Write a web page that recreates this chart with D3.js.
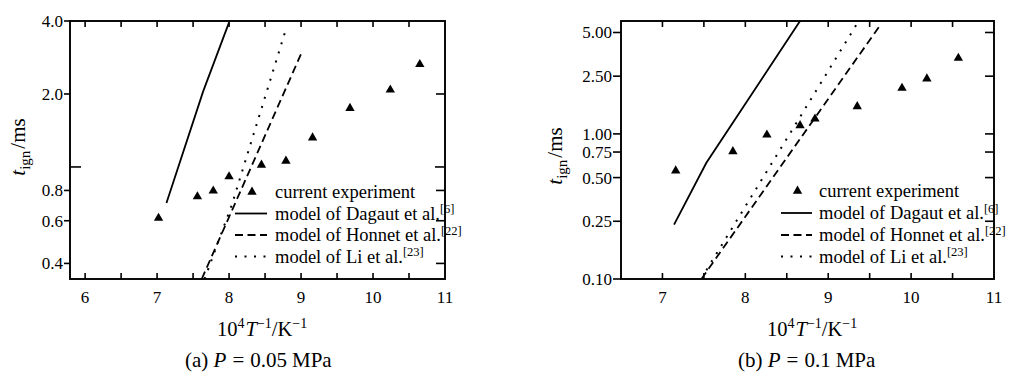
<!DOCTYPE html>
<html>
<head>
<meta charset="utf-8">
<script src="https://cdn.jsdelivr.net/npm/d3@7/dist/d3.min.js"></script>
<style>
  html, body { margin: 0; padding: 0; background: #fff; }
  svg { display: block; }
</style>
</head>
<body>
<svg id="chart" width="1010" height="376" font-family="'Liberation Serif', 'Times New Roman', 'DejaVu Serif', serif"></svg>
<script>
// ---------- data ----------
const legendLabels = ["current experiment", "model of Dagaut et al.", "model of Honnet et al.", "model of Li et al."];
const legendRefs = ["", "[6]", "[22]", "[23]"];
const captionPrefix = ["(a) ", "(b) "];
const captionValues = ["0.05", "0.1"];

// Panel (a) P = 0.05 MPa
const aExpX = [7.02, 7.56, 7.78, 8.00, 8.45, 8.79, 9.16, 9.68, 10.24, 10.65];
const aExpY = [0.615, 0.755, 0.797, 0.912, 1.019, 1.058, 1.32, 1.746, 2.08, 2.65];
const aDagautX = [7.13, 7.64, 8.00];
const aDagautY = [0.71, 2.05, 3.95];
const aHonnetX = [7.62, 9.01];
const aHonnetY = [0.345, 2.97];
const aLiX = [7.66, 8.04, 8.79];
const aLiY = [0.345, 0.70, 3.70];
const aXTicks = [6, 7, 8, 9, 10, 11];
const aYTicks = [0.4, 0.6, 0.8, 2.0, 4.0];
const aYTickLabels = ["0.4", "0.6", "0.8", "2.0", "4.0"];
const aYInnerTicks = [1.0];

// Panel (b) P = 0.1 MPa
const bExpX = [7.16, 7.85, 8.26, 8.66, 8.84, 9.35, 9.89, 10.19, 10.57];
const bExpY = [0.557, 0.756, 0.986, 1.143, 1.27, 1.545, 2.07, 2.40, 3.33];
const bDagautX = [7.14, 7.53, 8.66];
const bDagautY = [0.237, 0.633, 6.0];
const bHonnetX = [7.47, 9.63];
const bHonnetY = [0.10, 5.65];
const bLiX = [7.53, 9.34];
const bLiY = [0.115, 5.65];
const bXTicks = [7, 8, 9, 10, 11];
const bYTicks = [0.10, 0.25, 0.50, 0.75, 1.00, 2.50, 5.00];
const bYTickLabels = ["0.10", "0.25", "0.50", "0.75", "1.00", "2.50", "5.00"];
const bYInnerTicks = [];

// ---------- drawing ----------
const svg = d3.select("#chart");
const zip = (xs, ys) => xs.map((x, i) => [x, ys[i]]);

const panels = [
  {
    id: "a", xDomain: [5.79, 11], xRange: [70, 445], yDomain: [0.345, 4.0], yRange: [279, 21],
    exp: zip(aExpX, aExpY), dag: zip(aDagautX, aDagautY), hon: zip(aHonnetX, aHonnetY), li: zip(aLiX, aLiY),
    xTicks: aXTicks, yTicks: aYTicks, yLabels: aYTickLabels, yInner: aYInnerTicks,
    yTickOut: 6, ylabX: 25, ylabY: 147, legLineX: [235, 267], legText: 275, legRows: [192, 213.5, 235, 256.5],
    titleX: 217, capX: 185, labRight: 63, cap: 0
  },
  {
    id: "b", xDomain: [6.5, 11], xRange: [621, 994], yDomain: [0.1, 6.0], yRange: [279, 21],
    exp: zip(bExpX, bExpY), dag: zip(bDagautX, bDagautY), hon: zip(bHonnetX, bHonnetY), li: zip(bLiX, bLiY),
    xTicks: bXTicks, yTicks: bYTicks, yLabels: bYTickLabels, yInner: bYInnerTicks,
    yTickOut: 8, ylabX: 562, ylabY: 156, legLineX: [781, 812], legText: 819, legRows: [191, 213, 235, 256.5],
    titleX: 767, capX: 738, labRight: 612, cap: 1
  }
];

const styles = [
  null,
  { dash: null },
  { dash: "8,4.5" },
  { dash: "2,7.5" }
];

panels.forEach(p => {
  const x = d3.scaleLinear().domain(p.xDomain).range(p.xRange);
  const y = d3.scaleLog().domain(p.yDomain).range(p.yRange);
  const g = svg.append("g");
  const [x0, x1] = p.xRange, [yb, yt] = p.yRange;

  g.append("clipPath").attr("id", "clip-" + p.id)
    .append("rect").attr("x", x0).attr("y", yt).attr("width", x1 - x0).attr("height", yb - yt);

  // x ticks (inward, top & bottom), majors at integers, minors at halves
  const xMin = Math.ceil(p.xDomain[0] * 2) / 2;
  const xt = d3.range(xMin, p.xDomain[1] + 0.001, 0.5);
  xt.forEach(v => {
    const px = x(v);
    if (px <= x0 + 1 || px >= x1 - 1) return;
    g.append("line").attr("x1", px).attr("x2", px).attr("y1", yb).attr("y2", yb - 6)
      .attr("stroke", "#000").attr("stroke-width", 1.6);
    g.append("line").attr("x1", px).attr("x2", px).attr("y1", yt).attr("y2", yt + 6)
      .attr("stroke", "#000").attr("stroke-width", 1.6);
  });
  // x tick labels
  g.selectAll(".xl").data(p.xTicks).enter().append("text")
    .attr("x", d => x(d)).attr("y", 303).attr("text-anchor", "middle")
    .attr("font-size", 17).text(d => d);

  // y ticks: outward on left, inward on right
  p.yTicks.forEach((v, i) => {
    const py = y(v);
    g.append("line").attr("x1", x0 - p.yTickOut).attr("x2", x0).attr("y1", py).attr("y2", py)
      .attr("stroke", "#000").attr("stroke-width", 1.6);
    if (py > yt + 2 && py < yb - 1) {
      g.append("line").attr("x1", x1 - 9).attr("x2", x1).attr("y1", py).attr("y2", py)
        .attr("stroke", "#000").attr("stroke-width", 1.6);
    }
    g.append("text").attr("x", p.labRight).attr("y", py + 6).attr("text-anchor", "end")
      .attr("font-size", 17).text(p.yLabels[i]);
  });
  p.yInner.forEach(v => {
    const py = y(v);
    g.append("line").attr("x1", x0).attr("x2", x0 + 11).attr("y1", py).attr("y2", py)
      .attr("stroke", "#000").attr("stroke-width", 1.6);
    g.append("line").attr("x1", x1 - 10).attr("x2", x1).attr("y1", py).attr("y2", py)
      .attr("stroke", "#000").attr("stroke-width", 1.6);
  });

  // frame
  g.append("rect").attr("x", x0).attr("y", yt).attr("width", x1 - x0).attr("height", yb - yt)
    .attr("fill", "none").attr("stroke", "#000").attr("stroke-width", 1.9);

  // model lines
  const line = d3.line().x(d => x(d[0])).y(d => y(d[1]));
  const series = [null, p.dag, p.hon, p.li];
  [1, 2, 3].forEach(k => {
    g.append("path").attr("d", line(series[k])).attr("clip-path", `url(#clip-${p.id})`)
      .attr("fill", "none").attr("stroke", "#000").attr("stroke-width", k === 3 ? 2 : 1.8)
      .attr("stroke-dasharray", styles[k].dash);
  });

  // experiment points
  const tri = d3.symbol().type(d3.symbolTriangle).size(38);
  g.selectAll(".pt").data(p.exp).enter().append("path")
    .attr("d", tri).attr("transform", d => `translate(${x(d[0])},${y(d[1])})`).attr("fill", "#000");

  // legend
  legendLabels.forEach((lab, k) => {
    const ry = p.legRows[k];
    if (k === 0) {
      g.append("path").attr("d", tri)
        .attr("transform", `translate(${(p.legLineX[0] + p.legLineX[1]) / 2 + 1},${ry})`).attr("fill", "#000");
    } else {
      g.append("line").attr("x1", p.legLineX[0]).attr("x2", p.legLineX[1]).attr("y1", ry).attr("y2", ry)
        .attr("stroke", "#000").attr("stroke-width", k === 3 ? 2 : 1.8).attr("stroke-dasharray", styles[k].dash);
    }
    const t = g.append("text").attr("x", p.legText).attr("y", ry + 6).attr("font-size", 18.5);
    t.append("tspan").text(lab);
    if (legendRefs[k]) t.append("tspan").attr("font-size", 12.5).attr("dy", -6.5).text(legendRefs[k]);
  });

  // y axis label
  const yl = g.append("text").attr("transform", `translate(${p.ylabX},${p.ylabY}) rotate(-90)`)
    .attr("text-anchor", "middle").attr("font-size", 21);
  yl.append("tspan").attr("font-style", "italic").text("t");
  yl.append("tspan").attr("font-size", 15).attr("dy", 4.5).text("ign");
  yl.append("tspan").attr("dy", -4.5).attr("dx", 2).text("/ms");

  // x axis title
  const xl = g.append("text").attr("x", p.titleX).attr("y", 336).attr("font-size", 20.5);
  xl.append("tspan").text("10");
  xl.append("tspan").attr("font-size", 14).attr("dy", -8).text("4");
  xl.append("tspan").attr("font-style", "italic").attr("dy", 8).attr("dx", 1).text("T");
  xl.append("tspan").attr("font-size", 14).attr("dy", -8).text("\u22121");
  xl.append("tspan").attr("dy", 8).text("/K");
  xl.append("tspan").attr("font-size", 14).attr("dy", -8).text("\u22121");

  // caption
  const cp = g.append("text").attr("x", p.capX).attr("y", 367).attr("font-size", 21);
  cp.append("tspan").text(captionPrefix[p.cap]);
  cp.append("tspan").attr("font-style", "italic").text("P");
  cp.append("tspan").attr("dx", 6).text("=");
  cp.append("tspan").attr("dx", 6).text(captionValues[p.cap]);
  cp.append("tspan").attr("dx", 5).text("MPa");
});
</script>
</body>
</html>
